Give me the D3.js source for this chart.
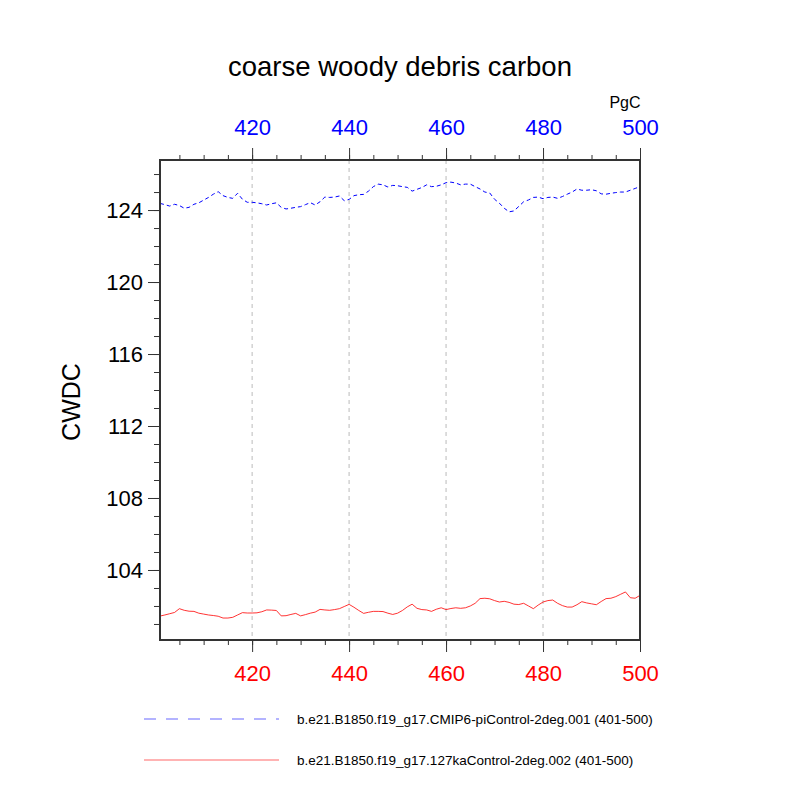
<!DOCTYPE html>
<html><head><meta charset="utf-8">
<script src="https://cdn.jsdelivr.net/npm/d3@7"></script>
<style>body{margin:0;background:#fff}</style>
</head><body>
<script>
const years = d3.range(401, 501);
const piControl = [
124.37,124.3,124.22,124.32,124.25,124.1,124.15,124.32,124.4,124.55,
124.7,124.88,125.02,124.8,124.7,124.65,124.93,124.6,124.43,124.43,
124.4,124.35,124.28,124.35,124.4,124.15,124.06,124.1,124.15,124.19,
124.3,124.41,124.28,124.46,124.72,124.7,124.72,124.78,124.52,124.59,
124.8,124.85,124.87,125.05,125.3,125.44,125.4,125.28,125.37,125.35,
125.3,125.26,125.05,125.15,125.25,125.4,125.3,125.32,125.4,125.52,
125.55,125.5,125.4,125.44,125.44,125.3,125.17,125.0,124.95,124.6,
124.38,124.1,123.9,123.95,124.2,124.46,124.56,124.7,124.72,124.63,
124.7,124.72,124.65,124.75,124.88,125.0,125.17,125.1,125.1,125.13,
125.07,124.9,124.88,124.93,124.97,125.0,125.0,125.1,125.2,125.3];
const ka127 = [
101.44,101.5,101.57,101.64,101.85,101.76,101.71,101.7,101.6,101.55,
101.5,101.47,101.43,101.33,101.33,101.37,101.5,101.63,101.61,101.61,
101.62,101.68,101.78,101.77,101.75,101.45,101.46,101.53,101.59,101.45,
101.52,101.6,101.66,101.81,101.78,101.76,101.8,101.85,101.97,102.09,
101.93,101.75,101.59,101.65,101.7,101.7,101.69,101.6,101.53,101.6,
101.75,101.95,102.1,101.87,101.8,101.78,101.7,101.82,101.9,101.8,
101.86,101.9,101.87,101.9,102.0,102.15,102.41,102.43,102.4,102.3,
102.22,102.26,102.2,102.1,102.08,102.15,102.0,101.85,102.05,102.22,
102.3,102.33,102.15,102.02,101.94,101.94,102.07,102.24,102.17,102.12,
102.07,102.25,102.41,102.43,102.52,102.65,102.78,102.46,102.43,102.59];
const xTicks = [420, 440, 460, 480, 500];
const yTicks = [104, 108, 112, 116, 120, 124];
const seriesNames = ["b.e21.B1850.f19_g17.CMIP6-piControl-2deg.001 (401-500)",
                     "b.e21.B1850.f19_g17.127kaControl-2deg.002 (401-500)"];
const titleText = "coarse woody debris carbon";
const yLabel = "CWDC";
const unitsText = "PgC";

const W = 800, H = 800;
const L = 160, R = 640, T = 160, B = 640;
const svg = d3.select("body").append("svg").attr("width", W).attr("height", H)
  .style("font-family", "Liberation Sans, Arial, sans-serif");

const x = d3.scaleLinear().domain([401, 500]).range([L, R]);
const y = d3.scaleLinear().domain([100.11, 126.78]).range([B, T]);

// grid
svg.append("g").selectAll("line").data(xTicks.filter(d => d < 500)).join("line")
  .attr("x1", d => x(d)).attr("x2", d => x(d)).attr("y1", T).attr("y2", B)
  .attr("stroke", "#bbb").attr("stroke-width", 1).attr("stroke-dasharray", "4,4");

// lines
const line = d3.line().x((d, i) => x(years[i])).y(d => y(d));
svg.append("path").datum(piControl).attr("d", line).attr("fill", "none")
  .attr("stroke", "#0000ff").attr("stroke-width", 1).attr("stroke-dasharray", "4,3");
svg.append("path").datum(ka127).attr("d", line).attr("fill", "none")
  .attr("stroke", "#ff0000").attr("stroke-width", 0.8);

// axes
const minorX = d3.range(405, 501, 5);
const minorY = d3.range(101, 127, 1);
const axStyle = g => { g.select(".domain").remove(); g.selectAll("line").attr("stroke", "#333"); };
const txtStyle = (g, c) => g.selectAll("text").attr("fill", c).style("font-size", "22px")
  .style("font-family", "Liberation Sans, Arial, sans-serif");

const axB = svg.append("g").attr("transform", `translate(0,${B})`);
axB.call(d3.axisBottom(x).tickValues(minorX).tickSize(5).tickFormat("")).call(axStyle);
axB.append("g").call(d3.axisBottom(x).tickValues(xTicks).tickSize(12).tickPadding(13).tickFormat(d3.format("d")))
  .call(axStyle).call(g => txtStyle(g, "#ff0000"));

const axT = svg.append("g").attr("transform", `translate(0,${T})`);
axT.call(d3.axisTop(x).tickValues(minorX).tickSize(5).tickFormat("")).call(axStyle);
axT.append("g").call(d3.axisTop(x).tickValues(xTicks).tickSize(12).tickPadding(13).tickFormat(d3.format("d")))
  .call(axStyle).call(g => txtStyle(g, "#0000ff"));

const axL = svg.append("g").attr("transform", `translate(${L},0)`);
axL.call(d3.axisLeft(y).tickValues(minorY).tickSize(6).tickFormat("")).call(axStyle);
axL.append("g").call(d3.axisLeft(y).tickValues(yTicks).tickSize(12).tickPadding(5).tickFormat(d3.format("d")))
  .call(axStyle).call(g => txtStyle(g, "#000"));

// frame
svg.append("rect").attr("x", L).attr("y", T).attr("width", R - L).attr("height", B - T)
  .attr("fill", "none").attr("stroke", "#333").attr("stroke-width", 2);

// title & labels
svg.append("text").attr("x", 400).attr("y", 76).attr("text-anchor", "middle")
  .style("font-size", "27.5px").text(titleText);
svg.append("text").attr("x", 625).attr("y", 108).attr("text-anchor", "middle")
  .style("font-size", "16px").text(unitsText);
svg.append("text").attr("transform", "translate(80,402) rotate(-90)").attr("text-anchor", "middle")
  .style("font-size", "25px").text(yLabel);

// legend
const leg = [{c: "#0000ff", dash: "12,10", y: 719, w: 0.6}, {c: "#ff0000", dash: null, y: 760, w: 0.6}];
leg.forEach((d, i) => {
  svg.append("line").attr("x1", 144).attr("x2", 279).attr("y1", d.y).attr("y2", d.y)
    .attr("stroke", d.c).attr("stroke-width", d.w).attr("stroke-dasharray", d.dash);
  svg.append("text").attr("x", 297).attr("y", d.y + 4.5).style("font-size", "13.5px").text(seriesNames[i]);
});
</script>
</body></html>
